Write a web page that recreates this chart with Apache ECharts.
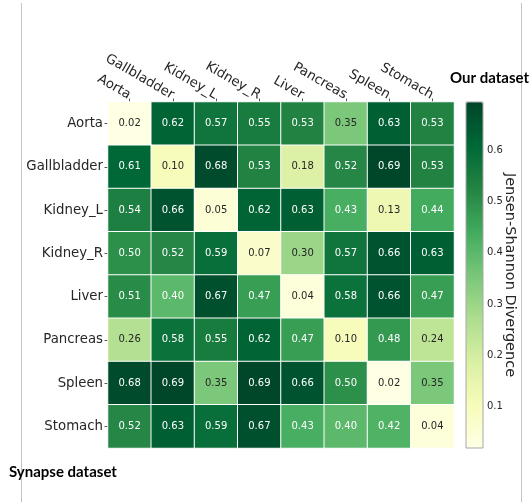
<!DOCTYPE html>
<html>
<head>
<meta charset="utf-8">
<title>Jensen-Shannon Divergence</title>
<script src="https://cdn.jsdelivr.net/npm/echarts@6/dist/echarts.min.js"></script>
<style>
  html, body { margin: 0; padding: 0; background: #fff; }
  #chart { width: 532px; height: 502px; }
</style>
</head>
<body>
<div id="chart"></div>
<script>
// organ names (same order on both axes)
const organs = ['Aorta', 'Gallbladder', 'Kidney_L', 'Kidney_R', 'Liver', 'Pancreas', 'Spleen', 'Stomach']

// one row per organ of the Synapse dataset, columns are our dataset
const rowAorta = [0.02, 0.62, 0.57, 0.55, 0.53, 0.35, 0.63, 0.53]
const rowGallbladder = [0.61, 0.10, 0.68, 0.53, 0.18, 0.52, 0.69, 0.53]
const rowKidneyL = [0.54, 0.66, 0.05, 0.62, 0.63, 0.43, 0.13, 0.44]
const rowKidneyR = [0.50, 0.52, 0.59, 0.07, 0.30, 0.57, 0.66, 0.63]
const rowLiver = [0.51, 0.40, 0.67, 0.47, 0.04, 0.58, 0.66, 0.47]
const rowPancreas = [0.26, 0.58, 0.55, 0.62, 0.47, 0.10, 0.48, 0.24]
const rowSpleen = [0.68, 0.69, 0.35, 0.69, 0.66, 0.50, 0.02, 0.35]
const rowStomach = [0.52, 0.63, 0.59, 0.67, 0.43, 0.40, 0.42, 0.04]

// colorbar ticks and limits
const barTicks = [0.1, 0.2, 0.3, 0.4, 0.5, 0.6]
const barMin = 0.019
const barMax = 0.694

// YlGn
const ylgn = ['#ffffe5', '#f7fcb9', '#d9f0a3', '#addd8e', '#78c679', '#41ab5d', '#238443', '#006837', '#004529']

const rows = [rowAorta, rowGallbladder, rowKidneyL, rowKidneyR, rowLiver, rowPancreas, rowSpleen, rowStomach]
const cells = []
rows.forEach((row, y) => {
  row.forEach((v, x) => {
    cells.push({
      value: [x, y, v],
      label: { color: v < 0.38 ? '#262626' : '#ffffff' }
    })
  })
})

const font = 'DejaVu Sans'
const titleFont = 'Lato'

const chart = echarts.init(document.getElementById('chart'))
chart.setOption({
  animation: false,
  backgroundColor: '#fff',
  title: [
    {
      text: 'Our dataset',
      left: 450,
      top: 71,
      padding: 0,
      textStyle: { fontFamily: titleFont, fontWeight: 'bold', fontSize: 15, color: '#000' }
    },
    {
      text: 'Synapse dataset',
      left: 9,
      top: 465,
      padding: 0,
      textStyle: { fontFamily: titleFont, fontWeight: 'bold', fontSize: 15, color: '#000' }
    }
  ],
  graphic: [
    { type: 'line', shape: { x1: 21.5, y1: 3, x2: 21.5, y2: 502 }, style: { stroke: '#c4c4c4', lineWidth: 1 } },
    { type: 'line', shape: { x1: 521.5, y1: 3, x2: 521.5, y2: 502 }, style: { stroke: '#c4c4c4', lineWidth: 1 }, z: 0 }
  ],
  grid: [
    { left: 108, top: 102, width: 346, height: 346 },
    // colorbar frame
    { left: 466, top: 102, width: 17, height: 346, show: true, backgroundColor: 'transparent', borderColor: '#a8a8a8', borderWidth: 1, z: 6 }
  ],
  xAxis: [
    {
      type: 'category',
      gridIndex: 0,
      position: 'top',
      data: organs,
      axisLine: { show: false },
      axisTick: { show: true, alignWithLabel: true, length: 3.5, lineStyle: { color: '#555' } },
      axisLabel: { rotate: 30, align: 'right', verticalAlign: 'middle', margin: 6, fontFamily: font, fontSize: 13.3, color: '#262626', interval: 0 },
      splitLine: { show: false }
    },
    { type: 'value', gridIndex: 1, show: false, min: 0, max: 1 }
  ],
  yAxis: [
    {
      type: 'category',
      gridIndex: 0,
      inverse: true,
      data: organs,
      axisLine: { show: false },
      axisTick: { show: true, alignWithLabel: true, length: 3.5, lineStyle: { color: '#555' } },
      axisLabel: { margin: 5, fontFamily: font, fontSize: 13.3, color: '#262626', interval: 0 },
      splitLine: { show: false }
    },
    {
      type: 'value',
      gridIndex: 1,
      position: 'right',
      min: barMin,
      max: barMax,
      axisLine: { show: false },
      axisTick: { show: true, length: 3.5, customValues: barTicks, lineStyle: { color: '#555' } },
      axisLabel: { margin: 4, customValues: barTicks, fontFamily: font, fontSize: 10, color: '#262626', formatter: v => v.toFixed(1) },
      splitLine: { show: false },
      name: 'Jensen-Shannon Divergence',
      nameLocation: 'middle',
      nameRotate: -90,
      nameGap: 19,
      nameMoveOverlap: false,
      nameTextStyle: { fontFamily: font, fontSize: 14.5, color: '#262626' }
    }
  ],
  visualMap: {
    type: 'continuous',
    seriesIndex: 0,
    min: barMin,
    max: barMax,
    calculable: false,
    hoverLink: false,
    orient: 'vertical',
    left: 466,
    top: 102,
    padding: 0,
    itemWidth: 17,
    itemHeight: 346,
    text: null,
    inRange: { color: ylgn }
  },
  series: [
    {
      type: 'heatmap',
      xAxisIndex: 0,
      yAxisIndex: 0,
      data: cells,
      itemStyle: { borderColor: '#ffffff', borderWidth: 1 },
      label: {
        show: true,
        fontFamily: font,
        fontSize: 10,
        formatter: p => p.value[2].toFixed(2)
      },
      emphasis: { disabled: true }
    }
  ]
})
</script>
</body>
</html>
